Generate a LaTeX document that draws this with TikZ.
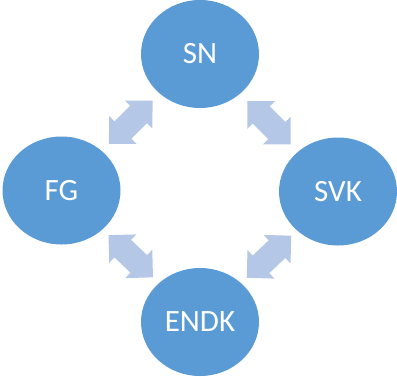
\documentclass[tikz,border=0pt]{standalone}
\usepackage{fontspec}
\setmainfont{Carlito}
\usetikzlibrary{shapes.geometric}
\definecolor{bubble}{HTML}{5B9BD5}
\definecolor{arrowfill}{HTML}{B4C7E7}
\tikzset{
  bubble/.style={ellipse, fill=bubble, draw=none, inner sep=0pt,
    minimum width=118pt, minimum height=108pt, text=white,
    font=\fontsize{31}{37}\selectfont},
  % block double arrow: 90 degree tips, head length 19.6, shaft half-width 12.1
  biarrow/.pic={
    \fill[arrowfill] (-30.65,0) -- (-11.05,19.6) -- (-11.05,12.1)
      -- (11.05,12.1) -- (11.05,19.6) -- (30.65,0) -- (11.05,-19.6)
      -- (11.05,-12.1) -- (-11.05,-12.1) -- (-11.05,-19.6) -- cycle;
  }
}
\begin{document}
\begin{tikzpicture}[x=1pt,y=-1pt]
  \useasboundingbox (0,0) rectangle (397,376);
  \node[bubble] (SN)   at (200,54)    {SN};
  \node[bubble] (FG)   at (61.5,190.5) {FG};
  \node[bubble] (SVK)  at (338,191.5) {SVK};
  \node[bubble] (ENDK) at (200,322)   {ENDK};
  \path (FG) -- (SN) pic[midway, sloped] {biarrow};
  \path (SN) -- (SVK) pic[midway, sloped] {biarrow};
  \path (FG) -- (ENDK) pic[midway, sloped] {biarrow};
  \path (ENDK) -- (SVK) pic[midway, sloped] {biarrow};
\end{tikzpicture}
\end{document}
